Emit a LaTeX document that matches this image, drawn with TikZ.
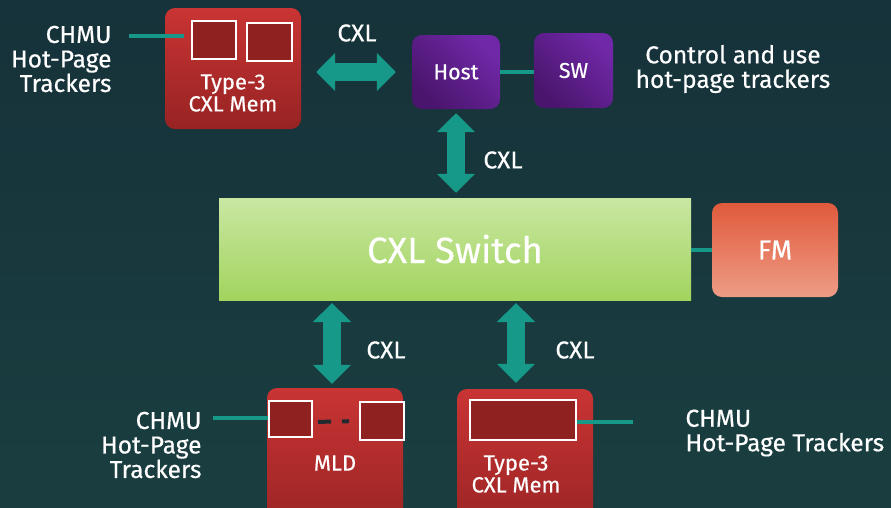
\documentclass[tikz,border=0pt]{standalone}
\usepackage{fontspec}
\setmainfont{Fira Sans}[FakeBold=0.4]
\usetikzlibrary{arrows.meta}

\definecolor{bgtop}{HTML}{16323A}
\definecolor{bgbot}{HTML}{1A3E40}
\definecolor{linkteal}{HTML}{17998A}
\definecolor{memtop}{HTML}{C93434}
\definecolor{membot}{HTML}{972323}
\definecolor{cellred}{HTML}{8F2121}
\definecolor{hostlight}{HTML}{7028A8}
\definecolor{hostdark}{HTML}{4A156C}
\definecolor{swtop}{HTML}{C9E7A2}
\definecolor{swbot}{HTML}{A2D45E}
\definecolor{fmtop}{HTML}{E05A3C}
\definecolor{fmbot}{HTML}{EE9C86}
\definecolor{dashdark}{HTML}{222A30}

\begin{document}
\begin{tikzpicture}[x=1pt,y=-1pt,
  membox/.style={rounded corners=10pt, top color=memtop, bottom color=membot,
    minimum width=136pt, inner sep=0pt},
  purplebox/.style={rounded corners=10pt, top color=hostlight, bottom color=hostdark,
    shading angle=-45, inner sep=0pt, text=white,
    font={\fontsize{21.5}{22}\selectfont}},
  cell/.style={draw=white, line width=2pt, fill=cellred, inner sep=0pt},
  boxtext/.style={text=white, align=center, font={\fontsize{22}{22}\selectfont}},
  lbl/.style={text=white, font={\fontsize{24.5}{24.5}\selectfont}},
  link/.style={draw=linkteal, line width=4pt},
  bigarrow/.style={draw=linkteal, line width=18pt,
    {Triangle[length=19pt,width=37pt]}-{Triangle[length=19pt,width=37pt]}},
]
\useasboundingbox (0,0) rectangle (891,507);
\clip (0,0) rectangle (891,507);
\fill[top color=bgtop, bottom color=bgbot] (0,0) rectangle (891,507);

% ---- upper row: memory device, host, software ----
\node[membox, minimum height=121pt] (memA) at (233,68.5) {};
\node[cell, minimum width=44pt, minimum height=38pt] (sq1) at (214,40) {};
\node[cell, minimum width=45pt, minimum height=38pt] (sq2) at (269.5,42) {};
\node[boxtext] (memAtxt) at (233,93) {Type-3\\CXL Mem};

\node[purplebox, minimum width=88pt, minimum height=74pt] (host) at (456,72) {Host};
\node[purplebox, minimum width=79pt, minimum height=75pt] (sw) at (573.5,70.5) {SW};

\node[lbl, align=right, anchor=east] (chmuA) at (115,59) {CHMU\\Hot-Page\\Trackers};
\node[lbl, align=center] (ctrl) at (733,69) {Control and use\\hot-page trackers};
\node[lbl] (cxlA) at (357,33) {CXL};
\node[lbl] (cxlB) at (503,160) {CXL};

% ---- switch and fabric manager ----
\node[top color=swtop, bottom color=swbot, minimum width=472pt, minimum height=102pt,
  inner sep=0pt, text=white, font={\fontsize{36.5}{38}\selectfont}] (switch) at (455,249) {CXL Switch};
\node[rounded corners=10pt, top color=fmtop, bottom color=fmbot, minimum width=126pt,
  minimum height=94pt, inner sep=0pt, text=white, font={\fontsize{27.5}{28}\selectfont}]
  (fm) at (775,250) {FM};

% ---- lower row: MLD and memory device ----
\node[membox, minimum height=150pt] (mld) at (335,463) {};
\node[cell, minimum width=43pt, minimum height=36pt] (sqA) at (290.5,419) {};
\node[cell, minimum width=44pt, minimum height=38pt] (sqB) at (382,421) {};
\node[boxtext] (mldtxt) at (335,463) {MLD};

\node[membox, minimum height=150pt] (memB) at (525,464) {};
\node[cell, minimum width=106pt, minimum height=40pt] (wide) at (523,420) {};
\node[boxtext] (memBtxt) at (516,474) {Type-3\\CXL Mem};

\node[lbl, align=right, anchor=east] (chmuB) at (205,445) {CHMU\\Hot-Page\\Trackers};
\node[lbl, align=left, anchor=west] (chmuC) at (682,433) {CHMU\\Hot-Page Trackers};
\node[lbl] (cxlC) at (386,350) {CXL};
\node[lbl] (cxlD) at (575,350) {CXL};

% ---- thin connectors ----
\coordinate (tA) at (129,36);
\draw[link, shorten >=7pt] (tA) -- (tA -| sq1.west);
\draw[link] (host.east) -- (host.east -| sw.west);
\draw[link] (switch.east |- fm.west) -- (fm.west);
\coordinate (tB) at (213,418);
\draw[link] (tB) -- (tB -| sqA.west);
\coordinate (tC) at (633,422);
\draw[link] (tC -| wide.east) -- (tC);
\draw[draw=dashdark, line width=4pt, dash pattern=on 13pt off 11pt,
  shorten <=5pt, shorten >=10pt] (sqA.east) ++(0,3) -- (sqB.west);

% ---- CXL links ----
\draw[bigarrow, shorten <=15pt, shorten >=16pt] (host.west -| memA.east) -- (host.west);
\draw[bigarrow, shorten <=4pt, shorten >=5pt] (host.south) -- (host.south |- switch.north);
\coordinate (pL) at (332,300);
\coordinate (pR) at (516,300);
\draw[bigarrow, shorten <=3pt, shorten >=4pt] (pL) -- (pL |- mld.north);
\draw[bigarrow, shorten <=3pt, shorten >=6pt] (pR) -- (pR |- memB.north);
\end{tikzpicture}
\end{document}
